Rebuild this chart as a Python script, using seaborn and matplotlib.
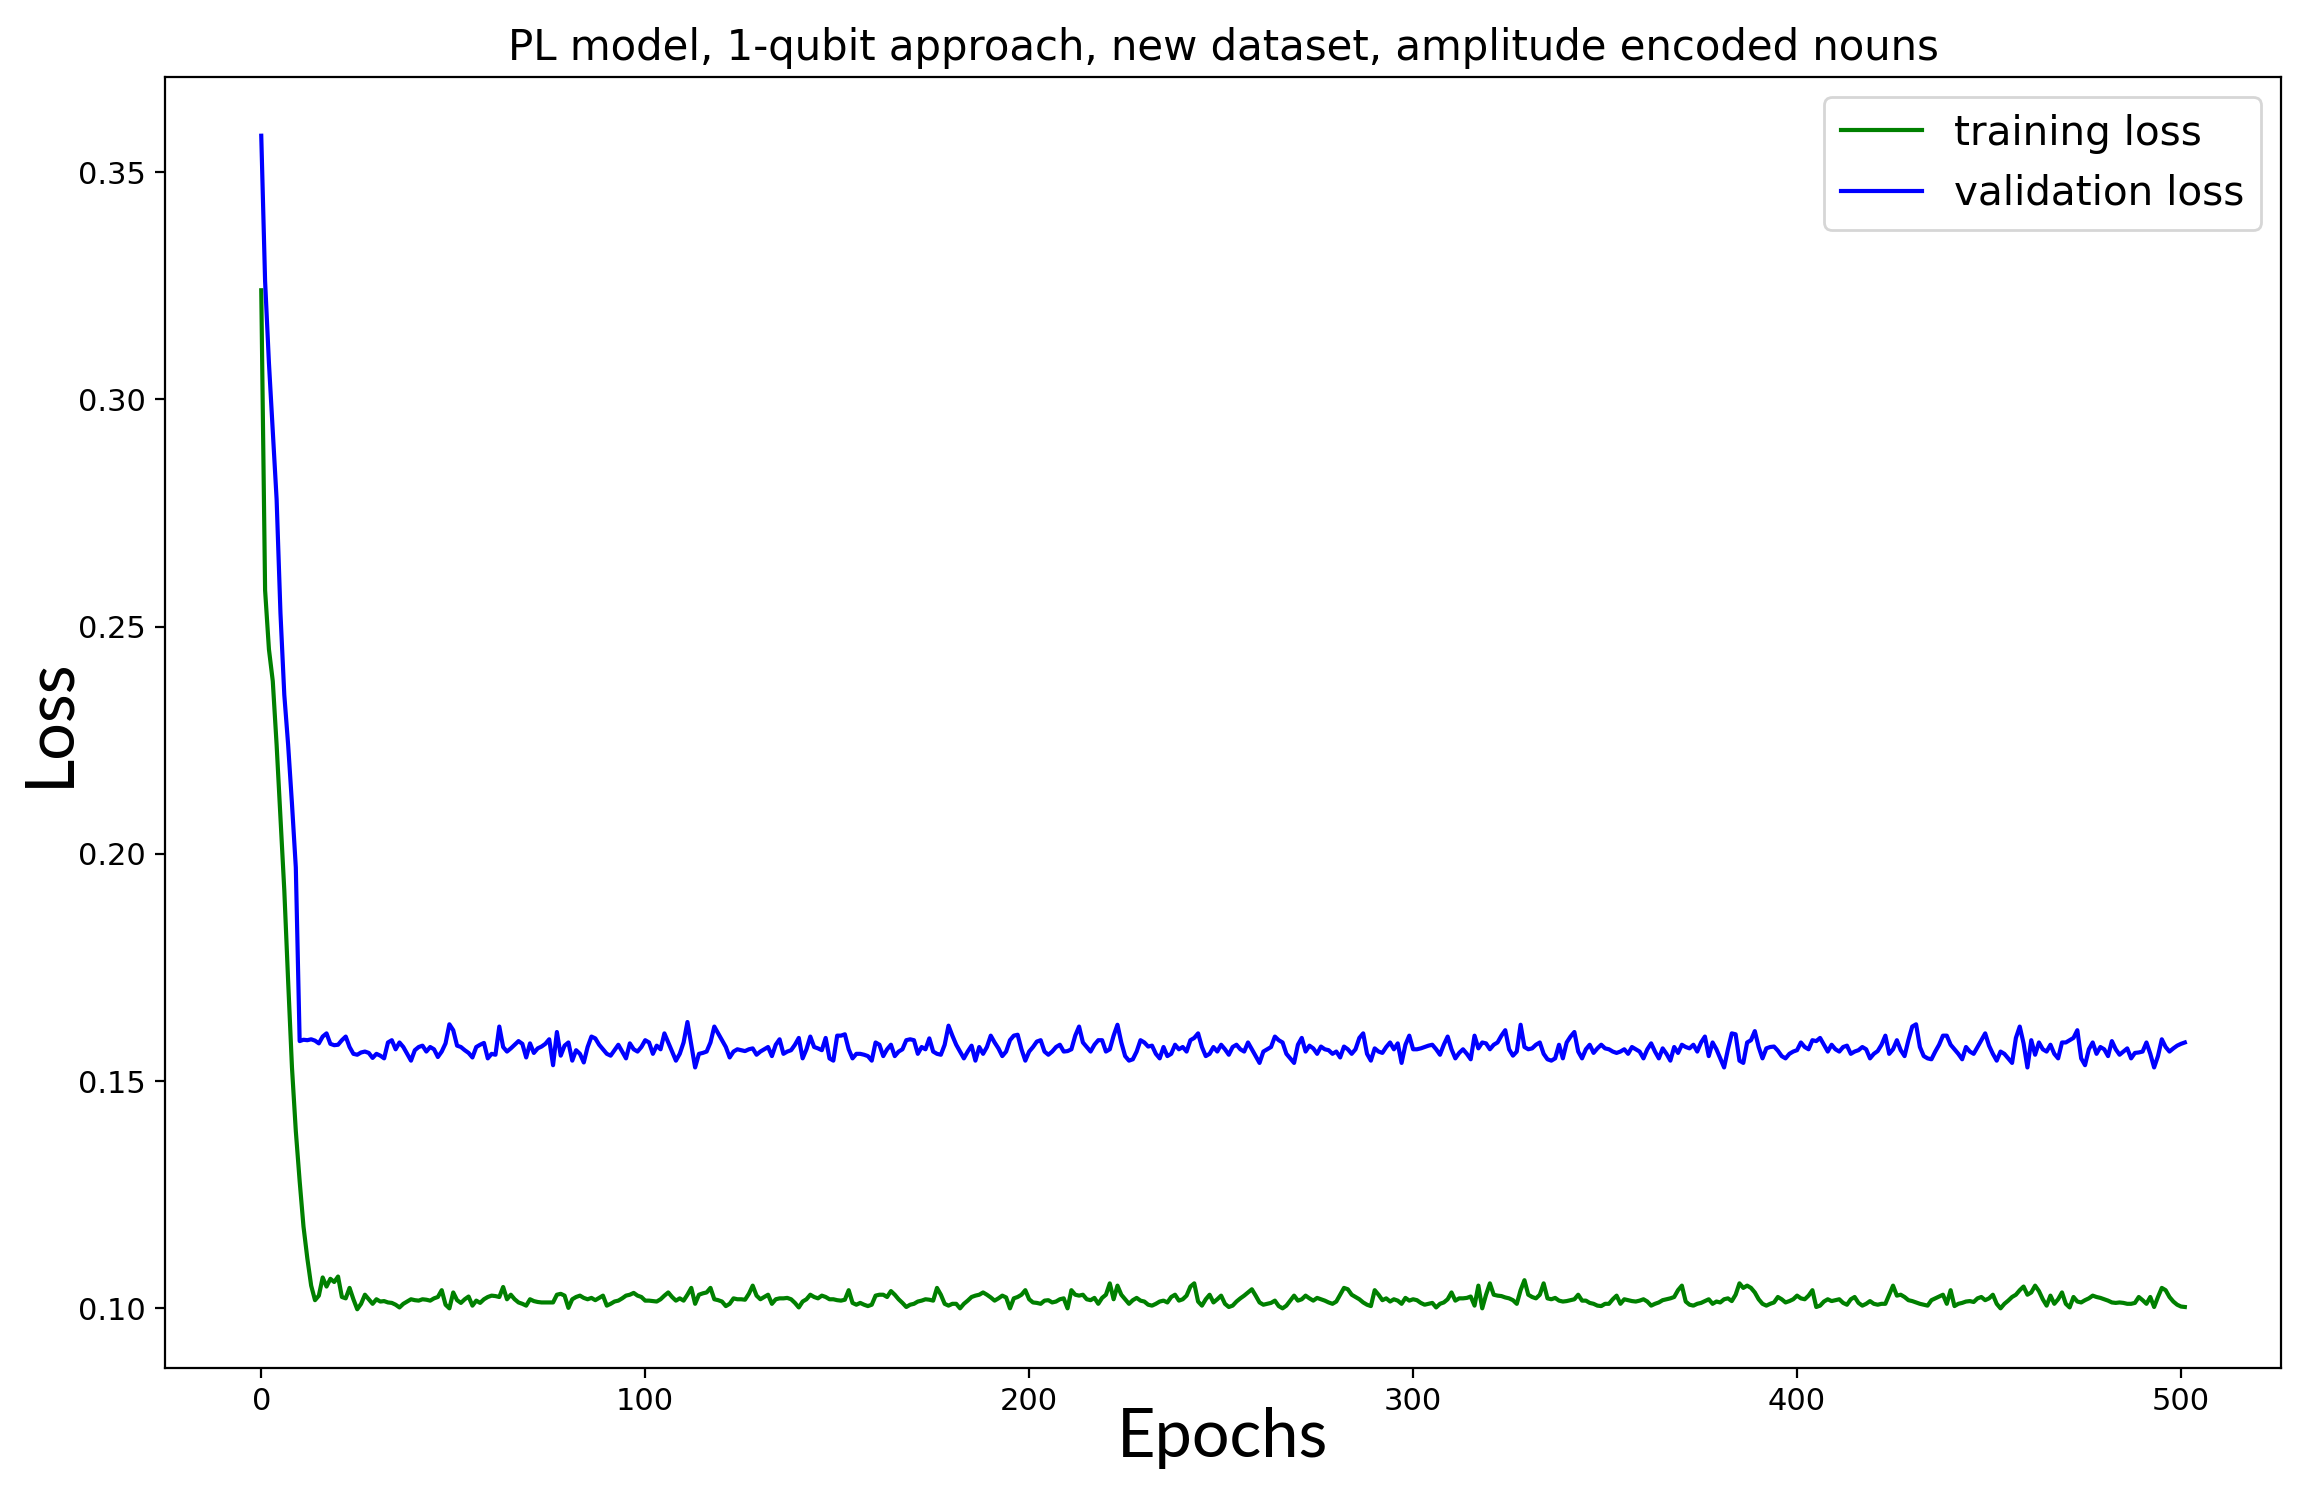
import numpy as np
import pandas as pd
import matplotlib
matplotlib.use("Agg")
import matplotlib.pyplot as plt
import seaborn as sns

title = "PL model, 1-qubit approach, new dataset, amplitude encoded nouns"
x_label = "Epochs"
y_label = "Loss"
series_names = ["training loss", "validation loss"]

# validation loss (blue)
val_0_9 = [0.358, 0.326, 0.308, 0.293, 0.278, 0.253, 0.235, 0.224, 0.211, 0.197]
val_10_100 = [
    0.1588, 0.1591, 0.1590, 0.1592, 0.1589, 0.1583, 0.1598, 0.1605, 0.1582, 0.1579,
    0.1580, 0.1590, 0.1598, 0.1575, 0.1560, 0.1558, 0.1563, 0.1565, 0.1562, 0.1551,
    0.1560, 0.1556, 0.1550, 0.1585, 0.1590, 0.1570, 0.1585, 0.1575, 0.1560, 0.1545,
    0.1568, 0.1575, 0.1578, 0.1565, 0.1575, 0.1570, 0.1553, 0.1565, 0.1583, 0.1625,
    0.1612, 0.1578, 0.1575, 0.1568, 0.1562, 0.1552, 0.1575, 0.1580, 0.1584, 0.1550,
    0.1560, 0.1558, 0.1620, 0.1575, 0.1565, 0.1572, 0.1580, 0.1588, 0.1582, 0.1552,
    0.1583, 0.1562, 0.1572, 0.1576, 0.1582, 0.1592, 0.1535, 0.1608, 0.1556, 0.1578,
    0.1585, 0.1545, 0.1568, 0.1560, 0.1541, 0.1575, 0.1598, 0.1594, 0.1580, 0.1570,
    0.1560, 0.1556, 0.1568, 0.1580, 0.1565, 0.1550, 0.1583, 0.1570, 0.1565, 0.1575,
    0.1590]
val_101_200 = [
    0.1585, 0.1560, 0.1578, 0.1570, 0.1605, 0.1585, 0.1565, 0.1545, 0.1560, 0.1585,
    0.1630, 0.1580, 0.1530, 0.1560, 0.1562, 0.1565, 0.1585, 0.1620, 0.1605, 0.1590,
    0.1575, 0.1552, 0.1565, 0.1570, 0.1568, 0.1566, 0.1570, 0.1572, 0.1558, 0.1565,
    0.1570, 0.1575, 0.1555, 0.1580, 0.1592, 0.1560, 0.1565, 0.1568, 0.1580, 0.1595,
    0.1550, 0.1570, 0.1598, 0.1575, 0.1572, 0.1568, 0.1595, 0.1550, 0.1545, 0.1600,
    0.1600, 0.1603, 0.1570, 0.1550, 0.1560, 0.1560, 0.1558, 0.1555, 0.1545, 0.1585,
    0.1580, 0.1555, 0.1570, 0.1580, 0.1555, 0.1565, 0.1570, 0.1590, 0.1592, 0.1590,
    0.1560, 0.1575, 0.1570, 0.1594, 0.1565, 0.1560, 0.1558, 0.1580, 0.1622, 0.1600,
    0.1580, 0.1565, 0.1550, 0.1565, 0.1578, 0.1545, 0.1575, 0.1560, 0.1575, 0.1600,
    0.1585, 0.1572, 0.1555, 0.1565, 0.1590, 0.1600, 0.1602, 0.1570, 0.1545, 0.1565]
val_201_300 = [
    0.1575, 0.1587, 0.1590, 0.1565, 0.1558, 0.1565, 0.1575, 0.1580, 0.1565, 0.1566,
    0.1570, 0.1600, 0.1620, 0.1585, 0.1575, 0.1565, 0.1580, 0.1590, 0.1590, 0.1565,
    0.1570, 0.1600, 0.1624, 0.1585, 0.1555, 0.1545, 0.1548, 0.1565, 0.1590, 0.1585,
    0.1576, 0.1578, 0.1560, 0.1550, 0.1575, 0.1555, 0.1560, 0.1580, 0.1570, 0.1575,
    0.1565, 0.1590, 0.1595, 0.1605, 0.1575, 0.1555, 0.1560, 0.1575, 0.1565, 0.1580,
    0.1570, 0.1558, 0.1575, 0.1580, 0.1570, 0.1565, 0.1585, 0.1570, 0.1555, 0.1540,
    0.1565, 0.1570, 0.1575, 0.1598, 0.1590, 0.1585, 0.1560, 0.1550, 0.1540, 0.1580,
    0.1595, 0.1565, 0.1578, 0.1572, 0.1560, 0.1576, 0.1570, 0.1568, 0.1560, 0.1565,
    0.1552, 0.1576, 0.1570, 0.1560, 0.1570, 0.1595, 0.1605, 0.1560, 0.1545, 0.1572,
    0.1565, 0.1562, 0.1575, 0.1585, 0.1570, 0.1583, 0.1540, 0.1580, 0.1600, 0.1570]
val_301_400 = [
    0.1570, 0.1572, 0.1575, 0.1578, 0.1580, 0.1570, 0.1558, 0.1580, 0.1598, 0.1570,
    0.1550, 0.1562, 0.1570, 0.1560, 0.1548, 0.1600, 0.1572, 0.1585, 0.1583, 0.1570,
    0.1580, 0.1585, 0.1600, 0.1612, 0.1570, 0.1556, 0.1565, 0.1624, 0.1575, 0.1570,
    0.1572, 0.1580, 0.1585, 0.1560, 0.1548, 0.1545, 0.1550, 0.1580, 0.1550, 0.1585,
    0.1598, 0.1608, 0.1565, 0.1550, 0.1570, 0.1580, 0.1562, 0.1572, 0.1580, 0.1572,
    0.1570, 0.1565, 0.1562, 0.1565, 0.1570, 0.1560, 0.1575, 0.1570, 0.1565, 0.1550,
    0.1570, 0.1583, 0.1565, 0.1550, 0.1572, 0.1560, 0.1545, 0.1575, 0.1562, 0.1580,
    0.1575, 0.1572, 0.1580, 0.1565, 0.1585, 0.1598, 0.1555, 0.1585, 0.1570, 0.1550,
    0.1530, 0.1570, 0.1605, 0.1603, 0.1545, 0.1540, 0.1585, 0.1590, 0.1610, 0.1575,
    0.1550, 0.1572, 0.1575, 0.1576, 0.1567, 0.1555, 0.1550, 0.1560, 0.1565, 0.1568]
val_401_501 = [
    0.1585, 0.1575, 0.1570, 0.1590, 0.1588, 0.1595, 0.1580, 0.1565, 0.1580, 0.1570,
    0.1565, 0.1575, 0.1578, 0.1560, 0.1565, 0.1568, 0.1575, 0.1570, 0.1550, 0.1560,
    0.1566, 0.1580, 0.1600, 0.1560, 0.1570, 0.1590, 0.1568, 0.1555, 0.1590, 0.1620,
    0.1625, 0.1575, 0.1555, 0.1550, 0.1548, 0.1565, 0.1580, 0.1600, 0.1600, 0.1580,
    0.1570, 0.1560, 0.1548, 0.1575, 0.1565, 0.1560, 0.1575, 0.1590, 0.1605, 0.1578,
    0.1560, 0.1545, 0.1565, 0.1560, 0.1550, 0.1540, 0.1595, 0.1620, 0.1583, 0.1530,
    0.1590, 0.1558, 0.1585, 0.1570, 0.1565, 0.1580, 0.1560, 0.1550, 0.1585, 0.1585,
    0.1590, 0.1595, 0.1612, 0.1550, 0.1535, 0.1570, 0.1585, 0.1560, 0.1575, 0.1570,
    0.1555, 0.1588, 0.1570, 0.1558, 0.1565, 0.1572, 0.1550, 0.1562, 0.1563, 0.1565,
    0.1585, 0.1560, 0.1530, 0.1555, 0.1592, 0.1575, 0.1565, 0.1572, 0.1578, 0.1582,
    0.1585]

# training loss (green)
train_0_13 = [0.324, 0.258, 0.245, 0.238, 0.224, 0.208, 0.192, 0.172, 0.153, 0.139,
              0.128, 0.118, 0.111, 0.105]
train_14_100 = [
    0.1018, 0.1028, 0.1068, 0.1048, 0.1065, 0.1058, 0.1070, 0.1025, 0.1022, 0.1045,
    0.1020, 0.0998, 0.1010, 0.1030, 0.1020, 0.1010, 0.1020, 0.1015, 0.1016, 0.1013,
    0.1012, 0.1008, 0.1002, 0.1010, 0.1015, 0.1020, 0.1018, 0.1017, 0.1020, 0.1019,
    0.1017, 0.1022, 0.1025, 0.1040, 0.1008, 0.1000, 0.1035, 0.1018, 0.1012, 0.1020,
    0.1026, 0.1006, 0.1017, 0.1012, 0.1020, 0.1025, 0.1028, 0.1027, 0.1025, 0.1047,
    0.1020, 0.1030, 0.1020, 0.1013, 0.1010, 0.1006, 0.1020, 0.1016, 0.1014, 0.1013,
    0.1013, 0.1013, 0.1013, 0.1030, 0.1032, 0.1028, 0.1001, 0.1020, 0.1025, 0.1028,
    0.1023, 0.1020, 0.1023, 0.1018, 0.1023, 0.1028, 0.1006, 0.1010, 0.1015, 0.1017,
    0.1022, 0.1028, 0.1030, 0.1034, 0.1028, 0.1025, 0.1017]
train_101_200 = [
    0.1017, 0.1016, 0.1015, 0.1020, 0.1028, 0.1035, 0.1025, 0.1017, 0.1022, 0.1017,
    0.1030, 0.1045, 0.1010, 0.1030, 0.1033, 0.1035, 0.1045, 0.1020, 0.1018, 0.1015,
    0.1005, 0.1010, 0.1022, 0.1020, 0.1020, 0.1019, 0.1032, 0.1050, 0.1028, 0.1020,
    0.1025, 0.1030, 0.1010, 0.1020, 0.1022, 0.1022, 0.1023, 0.1020, 0.1012, 0.1002,
    0.1015, 0.1020, 0.1030, 0.1025, 0.1022, 0.1028, 0.1025, 0.1020, 0.1020, 0.1018,
    0.1017, 0.1019, 0.1040, 0.1012, 0.1008, 0.1012, 0.1008, 0.1005, 0.1008, 0.1028,
    0.1030, 0.1030, 0.1025, 0.1038, 0.1030, 0.1020, 0.1012, 0.1003, 0.1008, 0.1010,
    0.1015, 0.1017, 0.1020, 0.1019, 0.1017, 0.1045, 0.1030, 0.1010, 0.1006, 0.1010,
    0.1010, 0.1000, 0.1010, 0.1017, 0.1025, 0.1028, 0.1030, 0.1035, 0.1030, 0.1024,
    0.1017, 0.1022, 0.1028, 0.1024, 0.1000, 0.1022, 0.1025, 0.1030, 0.1040, 0.1020]
train_201_300 = [
    0.1013, 0.1012, 0.1010, 0.1017, 0.1018, 0.1013, 0.1015, 0.1020, 0.1022, 0.1000,
    0.1040, 0.1030, 0.1028, 0.1030, 0.1020, 0.1018, 0.1023, 0.1010, 0.1023, 0.1030,
    0.1055, 0.1020, 0.1050, 0.1030, 0.1020, 0.1010, 0.1018, 0.1023, 0.1017, 0.1015,
    0.1008, 0.1006, 0.1010, 0.1015, 0.1017, 0.1013, 0.1025, 0.1030, 0.1017, 0.1020,
    0.1028, 0.1048, 0.1055, 0.1015, 0.1006, 0.1020, 0.1030, 0.1013, 0.1020, 0.1028,
    0.1010, 0.1003, 0.1006, 0.1015, 0.1022, 0.1028, 0.1035, 0.1042, 0.1028, 0.1013,
    0.1008, 0.1010, 0.1012, 0.1017, 0.1005, 0.1000, 0.1006, 0.1017, 0.1028, 0.1017,
    0.1020, 0.1028, 0.1022, 0.1017, 0.1023, 0.1020, 0.1017, 0.1013, 0.1010, 0.1015,
    0.1030, 0.1045, 0.1042, 0.1030, 0.1025, 0.1020, 0.1013, 0.1008, 0.1005, 0.1040,
    0.1030, 0.1018, 0.1022, 0.1015, 0.1020, 0.1017, 0.1010, 0.1023, 0.1017, 0.1020]
train_301_400 = [
    0.1018, 0.1012, 0.1008, 0.1010, 0.1012, 0.1002, 0.1010, 0.1013, 0.1020, 0.1035,
    0.1017, 0.1022, 0.1022, 0.1023, 0.1026, 0.1006, 0.1050, 0.1000, 0.1030, 0.1055,
    0.1030, 0.1028, 0.1027, 0.1024, 0.1022, 0.1018, 0.1010, 0.1040, 0.1062, 0.1030,
    0.1025, 0.1022, 0.1030, 0.1055, 0.1022, 0.1020, 0.1023, 0.1017, 0.1015, 0.1016,
    0.1018, 0.1020, 0.1030, 0.1017, 0.1017, 0.1012, 0.1010, 0.1006, 0.1005, 0.1010,
    0.1010, 0.1020, 0.1028, 0.1010, 0.1020, 0.1018, 0.1016, 0.1015, 0.1017, 0.1020,
    0.1015, 0.1006, 0.1010, 0.1013, 0.1018, 0.1020, 0.1022, 0.1025, 0.1040, 0.1050,
    0.1015, 0.1008, 0.1006, 0.1010, 0.1012, 0.1016, 0.1020, 0.1010, 0.1015, 0.1013,
    0.1020, 0.1022, 0.1016, 0.1030, 0.1055, 0.1045, 0.1050, 0.1045, 0.1035, 0.1020,
    0.1010, 0.1006, 0.1010, 0.1013, 0.1025, 0.1020, 0.1013, 0.1016, 0.1020, 0.1028]
train_401_501 = [
    0.1022, 0.1020, 0.1028, 0.1040, 0.1003, 0.1006, 0.1015, 0.1020, 0.1016, 0.1018,
    0.1020, 0.1012, 0.1008, 0.1020, 0.1025, 0.1012, 0.1006, 0.1010, 0.1016, 0.1010,
    0.1008, 0.1010, 0.1010, 0.1030, 0.1050, 0.1028, 0.1030, 0.1025, 0.1018, 0.1016,
    0.1013, 0.1010, 0.1008, 0.1006, 0.1018, 0.1022, 0.1026, 0.1030, 0.1010, 0.1040,
    0.1005, 0.1010, 0.1012, 0.1015, 0.1016, 0.1014, 0.1022, 0.1025, 0.1018, 0.1022,
    0.1030, 0.1010, 0.1000, 0.1010, 0.1017, 0.1025, 0.1030, 0.1040, 0.1048, 0.1030,
    0.1035, 0.1050, 0.1038, 0.1020, 0.1006, 0.1028, 0.1010, 0.1020, 0.1035, 0.1010,
    0.1002, 0.1025, 0.1015, 0.1013, 0.1018, 0.1022, 0.1028, 0.1025, 0.1023, 0.1020,
    0.1017, 0.1013, 0.1012, 0.1013, 0.1012, 0.1010, 0.1010, 0.1012, 0.1025, 0.1018,
    0.1010, 0.1025, 0.1003, 0.1025, 0.1045, 0.1040, 0.1025, 0.1015, 0.1008, 0.1004,
    0.1003]

validation_loss = val_0_9 + val_10_100 + val_101_200 + val_201_300 + val_301_400 + val_401_501
training_loss = train_0_13 + train_14_100 + train_101_200 + train_201_300 + train_301_400 + train_401_501

df = pd.DataFrame({
    "epoch": list(range(len(training_loss))) + list(range(len(validation_loss))),
    "loss": training_loss + validation_loss,
    "series": [series_names[0]] * len(training_loss) + [series_names[1]] * len(validation_loss),
})

fig = plt.figure(figsize=(11.56, 7.48), dpi=200)
ax = fig.add_axes([0.0714, 0.0856, 0.9152, 0.8629])

sns.lineplot(data=df, x="epoch", y="loss", hue="series",
             palette={series_names[0]: "green", series_names[1]: "blue"},
             ax=ax, linewidth=1.5)

ax.set_title(title, fontsize=15.1)
ax.set_xlabel(x_label, fontsize=24, fontfamily="Lato", labelpad=-3.5)
ax.set_ylabel(y_label, fontsize=24, fontfamily="Lato", labelpad=-1)
ax.tick_params(labelsize=11)
handles, labels = ax.get_legend_handles_labels()
ax.legend(handles, labels, loc="upper right", fontsize=14.6)

fig.savefig("out.png", dpi=200)
